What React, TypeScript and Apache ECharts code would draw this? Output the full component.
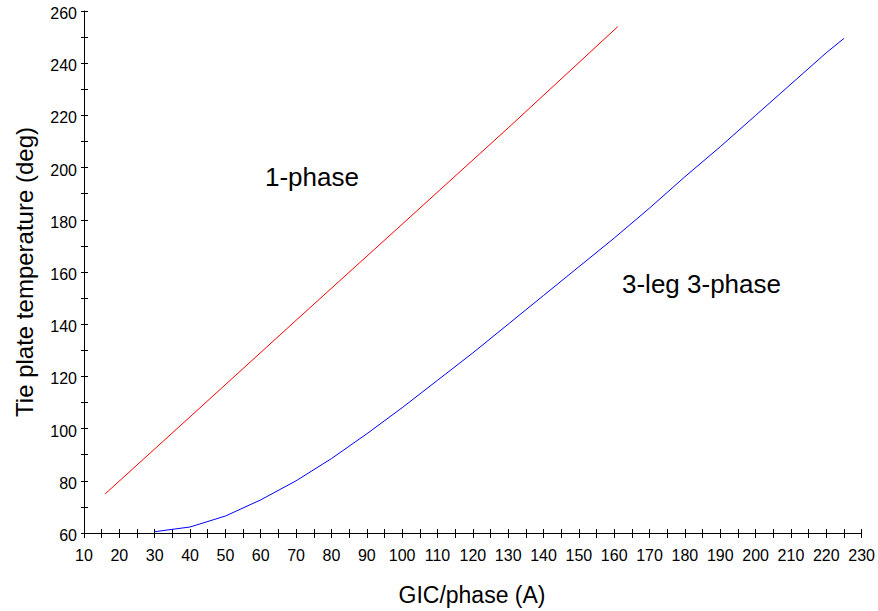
import React, { useEffect, useRef } from "react";
import * as echarts from "echarts";

const xTicks = { min: 10, max: 230, interval: 10 };
const yTicks = { min: 60, max: 260, interval: 20 };

const onePhaseX = [16, 40, 70, 100, 130, 161];
const onePhaseY = [75, 104.5, 141.5, 178.3, 215.2, 254];

const threePhaseX = [30, 40, 50, 60, 70, 80, 90, 100, 110, 120, 130, 140, 150, 160, 170, 180, 190, 200, 210, 220, 225];
const threePhaseY = [60.5, 62.3, 66.5, 72.7, 80, 88.5, 98, 108, 118.5, 129, 140, 151, 162, 173, 184.5, 196.5, 208, 220, 232, 244, 249.5];

const labelOne = "1-phase";
const labelThree = "3-leg 3-phase";
const xTitle = "GIC/phase (A)";
const yTitle = "Tie plate temperature (deg)";

const FONT = "Liberation Sans, Arial, Helvetica, sans-serif";

export default function App() {
  const ref = useRef<HTMLDivElement>(null);
  useEffect(() => {
    if (!ref.current) return;
    const chart = echarts.init(ref.current, undefined, { renderer: "svg" });
    const tickStyle = { color: "#000", width: 1 };
    const baseX = {
      type: "value",
      min: xTicks.min,
      max: xTicks.max,
      interval: xTicks.interval,
      position: "bottom",
      splitLine: { show: false },
    };
    const baseY = {
      type: "value",
      min: yTicks.min,
      max: yTicks.max,
      interval: yTicks.interval,
      position: "left",
      splitLine: { show: false },
    };
    chart.setOption({
      animation: false,
      backgroundColor: "#fff",
      textStyle: { fontFamily: FONT },
      grid: { left: 84, right: 16, top: 11, bottom: 78 },
      xAxis: [
        {
          ...baseX,
          axisLine: { show: true, lineStyle: { color: "#000", width: 1 } },
          axisTick: { show: true, inside: false, length: 5, lineStyle: tickStyle },
          minorTick: { show: true, splitNumber: 2, length: 5, lineStyle: tickStyle },
          axisLabel: { show: true, margin: 14, fontSize: 16, color: "#000", fontFamily: FONT },
        },
        {
          ...baseX,
          axisLine: { show: false },
          axisTick: { show: true, inside: true, length: 4, lineStyle: tickStyle },
          minorTick: { show: true, splitNumber: 2, length: 4, lineStyle: tickStyle },
          axisLabel: { show: false },
        },
      ],
      yAxis: [
        {
          ...baseY,
          axisLine: { show: true, lineStyle: { color: "#000", width: 1 } },
          axisTick: { show: true, inside: false, length: 3, lineStyle: tickStyle },
          minorTick: { show: true, splitNumber: 2, length: 3, lineStyle: tickStyle },
          axisLabel: {
            show: true,
            margin: 7,
            fontSize: 16,
            color: "#000",
            fontFamily: FONT,
            formatter: (v: number) => `{a|${v}}`,
            rich: {
              a: { fontSize: 16, color: "#000", fontFamily: FONT, padding: [5, 0, 0, 0] },
            },
          },
        },
        {
          ...baseY,
          axisLine: { show: false },
          axisTick: { show: true, inside: true, length: 4, lineStyle: tickStyle },
          minorTick: { show: true, splitNumber: 2, length: 4, lineStyle: tickStyle },
          axisLabel: { show: false },
        },
      ],
      series: [
        {
          name: labelOne,
          type: "line",
          xAxisIndex: 0,
          yAxisIndex: 0,
          data: onePhaseX.map((x, i) => [x, onePhaseY[i]]),
          symbol: "none",
          lineStyle: { color: "#ff0000", width: 1 },
        },
        {
          name: labelThree,
          type: "line",
          xAxisIndex: 0,
          yAxisIndex: 0,
          data: threePhaseX.map((x, i) => [x, threePhaseY[i]]),
          symbol: "none",
          lineStyle: { color: "#0000ff", width: 1 },
        },
      ],
      graphic: [
        {
          type: "text",
          x: 265,
          y: 177,
          style: { text: labelOne, fontSize: 26, fontFamily: FONT, fill: "#000", verticalAlign: "middle", align: "left" },
        },
        {
          type: "text",
          x: 622,
          y: 284,
          style: { text: labelThree, fontSize: 26, fontFamily: FONT, fill: "#000", verticalAlign: "middle", align: "left" },
        },
        {
          type: "text",
          x: 472,
          y: 595,
          style: { text: xTitle, fontSize: 23, fontFamily: FONT, fill: "#000", verticalAlign: "middle", align: "center" },
        },
        {
          type: "text",
          x: 24,
          y: 272,
          rotation: Math.PI / 2,
          style: { text: yTitle, fontSize: 24, fontFamily: FONT, fill: "#000", verticalAlign: "middle", align: "center" },
        },
      ],
    });
    return () => chart.dispose();
  }, []);
  return (
    <div
      ref={ref}
      style={{ position: "fixed", left: 0, top: 0, width: 878, height: 611, background: "#fff" }}
    />
  );
}
